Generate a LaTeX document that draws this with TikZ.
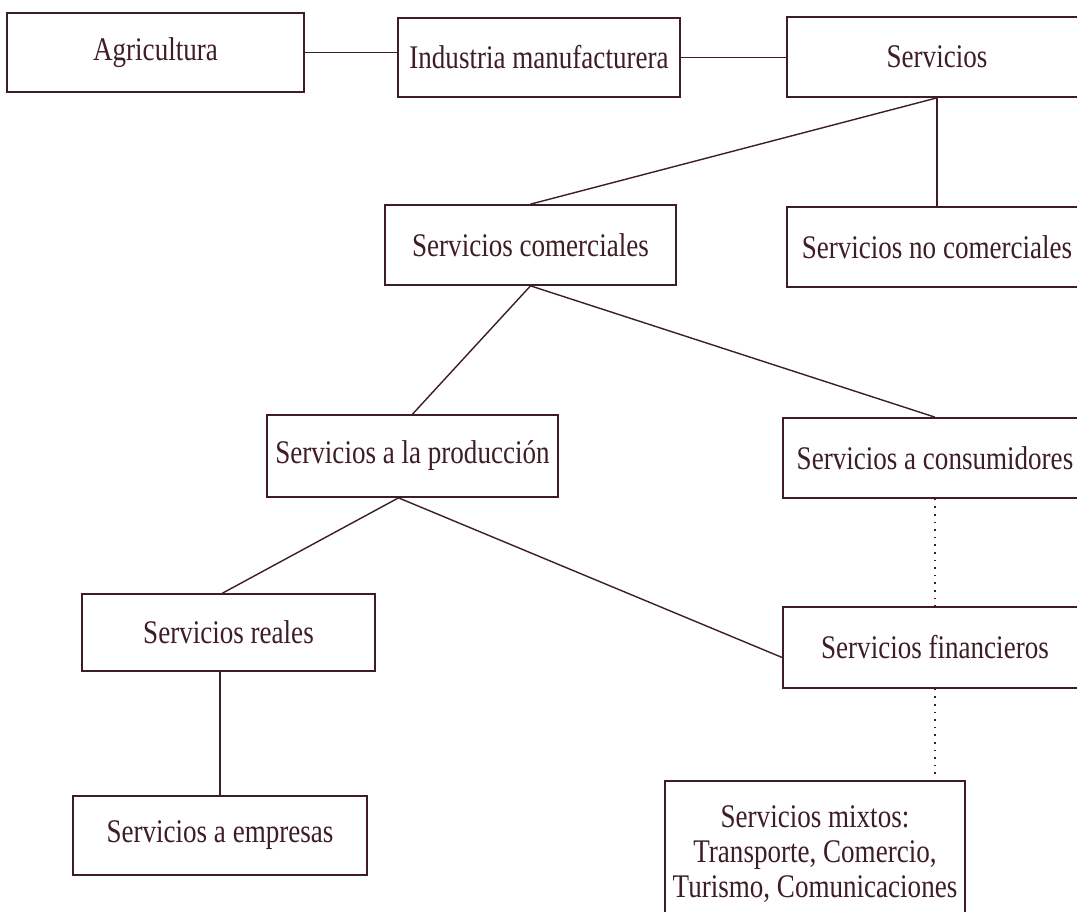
\documentclass[tikz,border=0pt]{standalone}
\usepackage{fontspec}
\setmainfont{Liberation Serif}[FakeStretch=0.82]
\usetikzlibrary{calc}
\definecolor{ink}{RGB}{62,30,36}
\begin{document}
\begin{tikzpicture}[x=1pt,y=-1pt,
  box/.style={draw=ink, line width=1.7pt, text=ink, inner sep=0pt,
    font=\fontsize{33}{35}\selectfont, align=center},
  link/.style={draw=ink, line width=1.4pt},
  dotline/.style={draw=ink, line width=1.6pt, dash pattern=on 1.6pt off 6pt}]
\useasboundingbox (0,0) rectangle (1077,911);
\clip (0,0) rectangle (1077,911);
\fill[white] (0,0) rectangle (1077,911);

\node[box, minimum width=297pt, minimum height=79pt] (agri) at (155.5,52.5) {Agricultura};
\node[box, minimum width=282pt, minimum height=79pt] (ind) at (539,57.5) {Industria manufacturera};
\node[box, minimum width=300pt, minimum height=80pt] (serv) at (937,57) {Servicios};
\node[box, minimum width=291pt, minimum height=80pt] (com) at (530.5,245) {Servicios comerciales};
\node[box, minimum width=300pt, minimum height=80pt] (nocom) at (937,247) {Servicios no comerciales};
\node[box, minimum width=291pt, minimum height=82pt] (prod) at (412.5,456) {Servicios a la producción};
\node[box, minimum width=304pt, minimum height=80pt] (cons) at (935,458) {Servicios a consumidores};
\node[box, minimum width=293pt, minimum height=77pt] (real) at (228.5,632.5) {Servicios reales};
\node[box, minimum width=304pt, minimum height=81pt] (fin) at (935,647.5) {Servicios financieros};
\node[box, minimum width=294pt, minimum height=79pt] (emp) at (220,835.5) {Servicios a empresas};
\node[box, minimum width=300pt, minimum height=146pt] (mix) at (815,854) {Servicios mixtos:\\Transporte, Comercio,\\Turismo, Comunicaciones};

\draw[link] (agri.east) -- (agri.east -| ind.west);
\draw[link] (ind.east) -- (ind.east -| serv.west);
\draw[link] (serv.south) -- (com.north);
\draw[link] (serv.south) -- (nocom.north);
\draw[link] (com.south) -- (prod.north);
\draw[link] (com.south) -- (cons.north);
\coordinate (pj) at ([xshift=-14pt]prod.south);
\draw[link] (pj) -- ([xshift=-6pt]real.north);
\draw[link] (pj) -- ([yshift=-10pt]fin.west);
\draw[link] (real.south -| emp.north) -- (emp.north);
\draw[dotline] (cons.south) -- (fin.north);
\draw[dotline] (fin.south) -- (fin.south |- mix.north);
\end{tikzpicture}
\end{document}
